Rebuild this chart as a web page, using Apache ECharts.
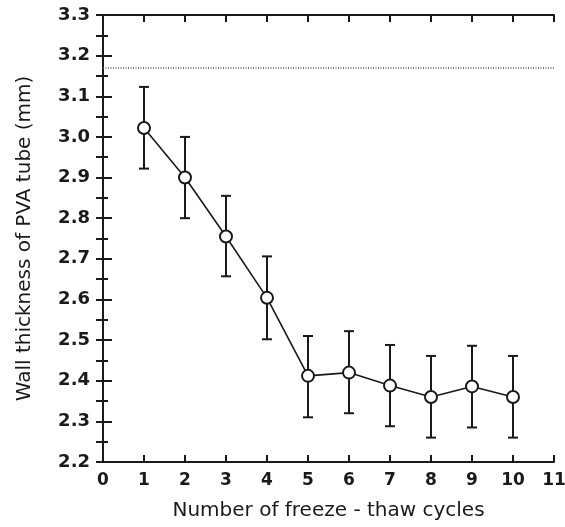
<!DOCTYPE html>
<html>
<head>
<meta charset="utf-8">
<script src="https://cdn.jsdelivr.net/npm/echarts@6/dist/echarts.min.js"></script>
<style>
    html, body { margin: 0; padding: 0; background: #fff; }
    #chart { width: 565px; height: 527px; }
</style>
</head>
<body>
<div id="chart"></div>
<script>
// Wall thickness vs. freeze-thaw cycles
const cycles = [1, 2, 3, 4, 5, 6, 7, 8, 9, 10];
const thickness = [3.022, 2.90, 2.755, 2.604, 2.412, 2.42, 2.388, 2.36, 2.386, 2.36];
const errLow = [2.922, 2.80, 2.657, 2.502, 2.31, 2.32, 2.288, 2.26, 2.285, 2.26];
const errHigh = [3.123, 3.0, 2.855, 2.706, 2.51, 2.522, 2.488, 2.461, 2.486, 2.461];
const referenceLevel = 3.175;

const font = 'DejaVu Sans, sans-serif';
const ink = '#1a1a1a';

document.addEventListener('DOMContentLoaded', function () {
    const chart = echarts.init(document.getElementById('chart'));

    const points = cycles.map((c, i) => [c, thickness[i]]);
    const bars = cycles.map((c, i) => [c, errLow[i], errHigh[i]]);

    const frameAxis = {
        axisLine: { show: true, lineStyle: { color: ink, width: 2 } },
        axisTick: { show: true, inside: true, length: 7, lineStyle: { color: ink, width: 2 } },
        axisLabel: { show: false },
        splitLine: { show: false }
    };

    const option = {
        animation: false,
        backgroundColor: '#fff',
        grid: { left: 103, right: 11, top: 15, bottom: 65, outerBoundsMode: 'none' },
        xAxis: [
            {
                type: 'value', min: 0, max: 11, interval: 1, position: 'bottom',
                name: 'Number of freeze - thaw cycles',
                nameLocation: 'middle', nameGap: 39,
                nameTextStyle: { fontFamily: font, fontSize: 20, color: ink },
                axisLine: { lineStyle: { color: ink, width: 2 } },
                axisTick: { inside: true, length: 7, lineStyle: { color: ink, width: 2 } },
                axisLabel: { fontFamily: font, fontSize: 17, fontWeight: 'bold', color: ink, margin: 10 },
                splitLine: { show: false }
            },
            Object.assign({ type: 'value', min: 0, max: 11, interval: 1, position: 'top' }, frameAxis)
        ],
        yAxis: [
            {
                type: 'value', min: 2.2, max: 3.3, interval: 0.1, position: 'left',
                name: 'Wall thickness of PVA tube (mm)',
                nameLocation: 'middle', nameGap: 68,
                nameTextStyle: { fontFamily: font, fontSize: 20, color: ink },
                axisLine: { lineStyle: { color: ink, width: 2 } },
                axisTick: { inside: true, length: 9, lineStyle: { color: ink, width: 2 } },
                minorTick: { show: true, splitNumber: 2, length: 5, lineStyle: { color: ink, width: 2 } },
                axisLabel: {
                    fontFamily: font, fontSize: 18, fontWeight: 'bold', color: ink, margin: 13,
                    formatter: v => v.toFixed(1)
                },
                splitLine: { show: false }
            },
            Object.assign({ type: 'value', min: 2.2, max: 3.3, interval: 0.05, position: 'right' }, frameAxis)
        ],
        series: [
            {
                type: 'custom',
                xAxisIndex: 0,
                yAxisIndex: 0,
                data: bars,
                z: 2,
                renderItem: function (params, api) {
                    const x = api.value(0);
                    const lo = api.coord([x, api.value(1)]);
                    const hi = api.coord([x, api.value(2)]);
                    const cap = 5;
                    const style = { stroke: ink, lineWidth: 2 };
                    return {
                        type: 'group',
                        children: [
                            { type: 'line', shape: { x1: lo[0], y1: lo[1], x2: hi[0], y2: hi[1] }, style: style },
                            { type: 'line', shape: { x1: lo[0] - cap, y1: lo[1], x2: lo[0] + cap, y2: lo[1] }, style: style },
                            { type: 'line', shape: { x1: hi[0] - cap, y1: hi[1], x2: hi[0] + cap, y2: hi[1] }, style: style }
                        ]
                    };
                }
            },
            {
                type: 'line',
                xAxisIndex: 0,
                yAxisIndex: 0,
                data: points,
                z: 3,
                symbol: 'circle',
                symbolSize: 12,
                itemStyle: { color: '#fff', borderColor: ink, borderWidth: 2 },
                lineStyle: { color: ink, width: 1.6 },
                markLine: {
                    silent: true,
                    symbol: 'none',
                    label: { show: false },
                    lineStyle: { color: '#555', type: [1, 1.5], width: 1.5 },
                    data: [{ yAxis: referenceLevel }]
                }
            }
        ]
    };

    chart.setOption(option);
});
</script>
</body>
</html>
